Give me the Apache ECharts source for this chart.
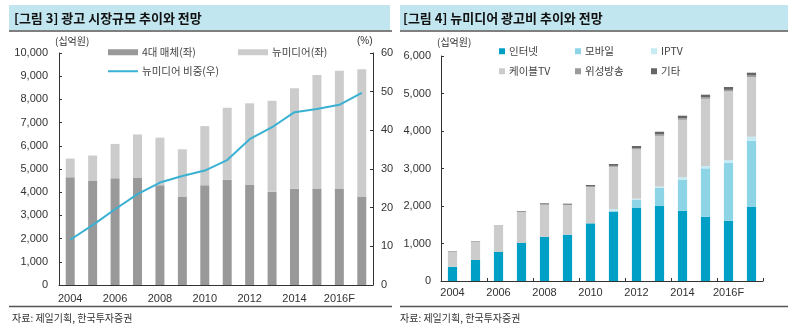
<!DOCTYPE html>
<html><head><meta charset="utf-8">
<script src="https://cdn.jsdelivr.net/npm/echarts@6/dist/echarts.min.js"></script>
<style>html,body{margin:0;padding:0;background:#fff}#c{width:800px;height:331px}</style>
</head><body><div id="c"></div>
<script>
const years = ['2004','2005','2006','2007','2008','2009','2010','2011','2012','2013','2014','2015','2016F','2017F'];
// Left chart (십억원, %)
const mass4 = [4640,4500,4600,4610,4300,3810,4300,4530,4310,4020,4150,4160,4160,3810];
const newMedia = [810,1080,1480,1880,2050,2040,2550,3110,3520,3920,4330,4890,5080,5490];
const newMediaShare = [11.7,15.5,19.6,23.5,26.5,28.2,29.6,32.3,37.7,40.8,44.7,45.5,46.6,49.7];
// Right chart (십억원)
const internet = [380,560,773,1013,1182,1236,1538,1849,1947,2000,1875,1715,1608,1973];
const mobile = [0,0,0,0,0,0,0,20,221,488,818,1290,1547,1768];
const iptv = [0,0,0,0,0,0,0,50,27,27,72,62,72,107];
const cable = [410,497,688,829,849,786,967,1126,1315,1356,1533,1791,1831,1592];
const satellite = [0,0,5,10,15,15,20,25,30,40,40,40,40,40];
const etc = [10,10,10,15,25,25,35,50,60,70,70,70,75,75];
const leftTicks = [0,10000,1000];
const rightTicks = [0,60,10];
const rTicks2 = [0,6000,1000];

const FONT = '"Liberation Sans","Noto Sans CJK KR",sans-serif';
const KFONT = '"Noto Sans CJK KR","Liberation Sans",sans-serif';
const chart = echarts.init(document.getElementById('c'));
const comma = v => v.toLocaleString('en-US');
const axisLine = {show:true, lineStyle:{color:'#333', width:1}};
const lbl = {color:'#333', fontSize:11, fontFamily:FONT};

function legend(name, left, top, w, h, color){
  return {data:[name], left:left, top:top, itemWidth:w, itemHeight:h, icon:'rect', itemGap:0,
    padding:0, textStyle:{color:'#444', fontSize:10.5, fontFamily:KFONT, padding:[0,0,0,-1]},
    selectedMode:false};
}

chart.setOption({
  animation:false,
  textStyle:{fontFamily:FONT},
  grid:[
    {left:59, right:427, top:53, bottom:46},
    {left:441, right:37, top:56, bottom:50}
  ],
  legend:[
    legend('4대 매체(좌)', 108, 47, 30, 6),
    legend('뉴미디어(좌)', 238, 47, 30, 6),
    legend('뉴미디어 비중(우)', 108, 66, 30, 2),
    legend('인터넷', 499, 46, 6, 6),
    legend('모바일', 575, 46, 6, 6),
    legend('IPTV', 651, 46, 6, 6),
    legend('케이블TV', 499, 66, 6, 6),
    legend('위성방송', 575, 66, 6, 6),
    legend('기타', 651, 66, 6, 6)
  ],
  xAxis:[
    {type:'category', gridIndex:0, data:years, axisLine:axisLine, axisTick:{show:false},
     axisLabel:Object.assign({interval:1, margin:8}, lbl)},
    {type:'category', gridIndex:1, data:years, axisLine:axisLine,
     axisTick:{show:true, inside:true, length:3, lineStyle:{color:'#333'}},
     axisLabel:Object.assign({interval:1, margin:6}, lbl)}
  ],
  yAxis:[
    {type:'value', gridIndex:0, min:leftTicks[0], max:leftTicks[1], interval:leftTicks[2],
     axisLine:axisLine, axisTick:{show:true, inside:true, length:3, lineStyle:{color:'#333'}},
     splitLine:{show:false}, axisLabel:Object.assign({formatter:comma, margin:11}, lbl)},
    {type:'value', gridIndex:0, position:'right', min:rightTicks[0], max:rightTicks[1], interval:rightTicks[2],
     axisLine:axisLine, axisTick:{show:true, inside:true, length:3, lineStyle:{color:'#333'}},
     splitLine:{show:false}, axisLabel:Object.assign({margin:8}, lbl)},
    {type:'value', gridIndex:1, min:rTicks2[0], max:rTicks2[1], interval:rTicks2[2],
     axisLine:axisLine, axisTick:{show:true, inside:true, length:3, lineStyle:{color:'#333'}},
     splitLine:{show:false}, axisLabel:Object.assign({formatter:comma, margin:10}, lbl)}
  ],
  series:[
    {name:'4대 매체(좌)', type:'bar', stack:'a', xAxisIndex:0, yAxisIndex:0, data:mass4, barWidth:'40%', itemStyle:{color:'#999999'}},
    {name:'뉴미디어(좌)', type:'bar', stack:'a', xAxisIndex:0, yAxisIndex:0, data:newMedia, barWidth:'40%', itemStyle:{color:'#cccccc'}},
    {name:'뉴미디어 비중(우)', type:'line', xAxisIndex:0, yAxisIndex:1, data:newMediaShare, symbol:'none',
     lineStyle:{color:'#3ab1d2', width:2}, itemStyle:{color:'#3ab1d2'}},
    {name:'인터넷', type:'bar', stack:'b', xAxisIndex:1, yAxisIndex:2, data:internet, barWidth:'40%', itemStyle:{color:'#00a0c6'}},
    {name:'모바일', type:'bar', stack:'b', xAxisIndex:1, yAxisIndex:2, data:mobile, barWidth:'40%', itemStyle:{color:'#8dd4e6'}},
    {name:'IPTV', type:'bar', stack:'b', xAxisIndex:1, yAxisIndex:2, data:iptv, barWidth:'40%', itemStyle:{color:'#c6ebf4'}},
    {name:'케이블TV', type:'bar', stack:'b', xAxisIndex:1, yAxisIndex:2, data:cable, barWidth:'40%', itemStyle:{color:'#cccccc'}},
    {name:'위성방송', type:'bar', stack:'b', xAxisIndex:1, yAxisIndex:2, data:satellite, barWidth:'40%', itemStyle:{color:'#9a9a9a'}},
    {name:'기타', type:'bar', stack:'b', xAxisIndex:1, yAxisIndex:2, data:etc, barWidth:'40%', itemStyle:{color:'#666666'}}
  ],
  graphic:[
    {type:'rect', shape:{x:9, y:5, width:381, height:25}, style:{fill:'#c2e6ef'}, silent:true},
    {type:'rect', shape:{x:400, y:5, width:388, height:25}, style:{fill:'#c2e6ef'}, silent:true},
    {type:'line', shape:{x1:9, y1:31, x2:392, y2:31}, style:{stroke:'#555', lineWidth:1.5}},
    {type:'line', shape:{x1:400, y1:31, x2:788, y2:31}, style:{stroke:'#555', lineWidth:1.5}},
    {type:'line', shape:{x1:9, y1:306.5, x2:392, y2:306.5}, style:{stroke:'#555', lineWidth:1.5}},
    {type:'line', shape:{x1:400, y1:306.5, x2:788, y2:306.5}, style:{stroke:'#555', lineWidth:1.5}},
    {type:'text', x:14, y:18, style:{text:'[그림 3] 광고 시장규모 추이와 전망', font:'bold 13px '+KFONT, fill:'#111', verticalAlign:'middle'}},
    {type:'text', x:403, y:18, style:{text:'[그림 4] 뉴미디어 광고비 추이와 전망', font:'bold 13px '+KFONT, fill:'#111', verticalAlign:'middle'}},
    {type:'text', x:12, y:318, style:{text:'자료: 제일기획, 한국투자증권', font:'10px '+KFONT, fill:'#333', verticalAlign:'middle'}},
    {type:'text', x:400, y:318, style:{text:'자료: 제일기획, 한국투자증권', font:'10px '+KFONT, fill:'#333', verticalAlign:'middle'}},
    {type:'text', x:55, y:41, style:{text:'(십억원)', font:'10px '+KFONT, fill:'#333', verticalAlign:'middle'}},
    {type:'text', x:357, y:41, style:{text:'(%)', font:'10px '+FONT, fill:'#333', verticalAlign:'middle'}},
    {type:'text', x:437, y:42, style:{text:'(십억원)', font:'10px '+KFONT, fill:'#333', verticalAlign:'middle'}}
  ]
});
</script></body></html>
